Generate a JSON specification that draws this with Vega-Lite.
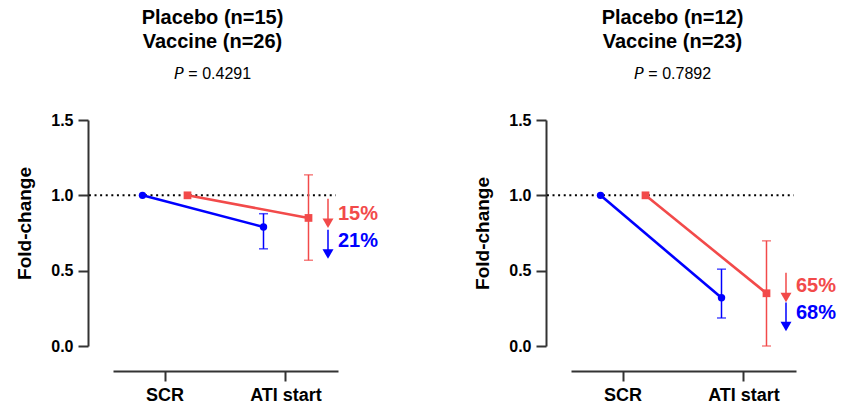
{
  "$schema": "https://vega.github.io/schema/vega-lite/v6.json",
  "background": "white",
  "padding": {"left": 15, "top": 8, "right": 0, "bottom": 0},
  "spacing": 94,
  "config": {
    "font": "Liberation Sans",
    "view": {"stroke": null},
    "title": {
      "font": "Liberation Sans",
      "fontSize": 20,
      "fontWeight": "bold",
      "lineHeight": 24,
      "color": "#000000",
      "anchor": "middle",
      "frame": "group",
      "offset": 30,
      "subtitleFont": "Liberation Sans",
      "subtitleFontSize": 16,
      "subtitleColor": "#000000",
      "subtitlePadding": 14
    },
    "axisY": {
      "offset": 25,
      "grid": false,
      "format": ".1f",
      "labelFontSize": 16,
      "labelFontWeight": "bold",
      "labelColor": "#000000",
      "labelPadding": 5,
      "tickSize": 10,
      "tickWidth": 2,
      "tickColor": "#333333",
      "domainWidth": 2,
      "domainColor": "#333333",
      "titleFontSize": 19,
      "titleFontWeight": "bold",
      "titleColor": "#000000",
      "titlePadding": 16
    },
    "axisX": {
      "offset": 25,
      "grid": false,
      "labelAngle": 0,
      "labelFontSize": 18,
      "labelFontWeight": "bold",
      "labelColor": "#000000",
      "labelPadding": 5,
      "tickSize": 10,
      "tickWidth": 2,
      "tickColor": "#333333",
      "domainWidth": 2,
      "domainColor": "#333333",
      "title": null
    }
  },
  "datasets": {
    "means_a": [
      {"time": "SCR", "group": "Vaccine", "mean": 1},
      {"time": "ATI start", "group": "Vaccine", "mean": 0.79, "lo": 0.645, "hi": 0.878},
      {"time": "SCR", "group": "Placebo", "mean": 1},
      {"time": "ATI start", "group": "Placebo", "mean": 0.85, "lo": 0.569, "hi": 1.136}
    ],
    "drop_a": [
      {"time": "ATI start", "group": "Placebo", "top": 0.977, "head": 0.815, "label": "15%", "ly": 0.876},
      {"time": "ATI start", "group": "Vaccine", "top": 0.772, "head": 0.61, "label": "21%", "ly": 0.695}
    ],
    "means_b": [
      {"time": "SCR", "group": "Vaccine", "mean": 1},
      {"time": "ATI start", "group": "Vaccine", "mean": 0.32, "lo": 0.186, "hi": 0.51},
      {"time": "SCR", "group": "Placebo", "mean": 1},
      {"time": "ATI start", "group": "Placebo", "mean": 0.35, "lo": 0.0, "hi": 0.698}
    ],
    "drop_b": [
      {"time": "ATI start", "group": "Placebo", "top": 0.487, "head": 0.322, "label": "65%", "ly": 0.40},
      {"time": "ATI start", "group": "Vaccine", "top": 0.288, "head": 0.13, "label": "68%", "ly": 0.217}
    ],
    "baseline": [{"ref": 1, "from": -0.107, "to": 0.99}]
  },
  "hconcat": [
    {
      "width": 225,
      "height": 226,
      "title": {"text": ["Placebo (n=15)", "Vaccine (n=26)"], "subtitle": "𝘗 = 0.4291", "dx": -13},
      "resolve": {"scale": {"x": "independent"}, "axis": {"x": "independent"}},
      "layer": [
        {
          "data": {"name": "baseline"},
          "mark": {"type": "rule", "color": "#000000", "strokeWidth": 2, "strokeDash": [2, 3.6], "clip": false},
          "encoding": {
            "x": {"field": "from", "type": "quantitative", "scale": {"domain": [0, 1], "nice": false, "zero": false, "clamp": false}, "axis": null},
            "x2": {"field": "to"},
            "y": {"field": "ref", "type": "quantitative", "scale": {"domain": [0, 1.5], "nice": false},
                  "axis": {"title": "Fold-change", "values": [0, 0.5, 1, 1.5], "titleY": 103}}
          }
        },
        {
          "layer": [
            {
              "data": {"name": "means_a"},
              "encoding": {
                "x": {"field": "time", "type": "nominal", "sort": ["SCR", "ATI start"],
                      "scale": {"domain": ["SCR", "ATI start"], "paddingInner": 0.2562, "paddingOuter": 0.0579}},
                "xOffset": {"field": "group", "type": "nominal", "scale": {"domain": ["Vaccine", "Placebo"], "paddingInner": 0, "paddingOuter": 0}},
                "color": {"field": "group", "type": "nominal",
                          "scale": {"domain": ["Vaccine", "Placebo"], "range": ["#0000ff", "#f24a4a"]}, "legend": null}
              },
              "layer": [
                {
                  "transform": [{"filter": "isValid(datum.lo)"}],
                  "mark": {"type": "rule", "strokeWidth": 1.5},
                  "encoding": {"y": {"field": "lo", "type": "quantitative"}, "y2": {"field": "hi"}}
                },
                {
                  "transform": [{"filter": "isValid(datum.lo)"}],
                  "mark": {"type": "tick", "thickness": 1.5, "size": 9},
                  "encoding": {"y": {"field": "lo", "type": "quantitative"}}
                },
                {
                  "transform": [{"filter": "isValid(datum.hi)"}],
                  "mark": {"type": "tick", "thickness": 1.5, "size": 9},
                  "encoding": {"y": {"field": "hi", "type": "quantitative"}}
                },
                {
                  "mark": {"type": "line", "strokeWidth": 2.6},
                  "encoding": {"y": {"field": "mean", "type": "quantitative"}}
                },
                {
                  "mark": {"type": "point", "filled": true, "opacity": 1},
                  "encoding": {"y": {"field": "mean", "type": "quantitative"},
                               "shape": {"field": "group", "type": "nominal", "scale": {"domain": ["Vaccine", "Placebo"], "range": ["circle", "square"]}, "legend": null},
                               "size": {"field": "group", "type": "nominal", "scale": {"domain": ["Vaccine", "Placebo"], "range": [55, 60]}, "legend": null}}
                }
              ]
            },
            {
              "data": {"name": "drop_a"},
              "encoding": {
                "x": {"field": "time", "type": "nominal"},
                "color": {"field": "group", "type": "nominal", "legend": null}
              },
              "layer": [
                {
                  "mark": {"type": "rule", "strokeWidth": 1.5, "xOffset": 42},
                  "encoding": {"y": {"field": "top", "type": "quantitative"}, "y2": {"field": "head"}}
                },
                {
                  "mark": {"type": "point", "shape": "triangle-down", "filled": true, "opacity": 1, "size": 120, "xOffset": 42},
                  "encoding": {"y": {"field": "head", "type": "quantitative"}}
                },
                {
                  "mark": {"type": "text", "align": "left", "baseline": "middle", "fontSize": 20, "fontWeight": "bold", "xOffset": 52},
                  "encoding": {"y": {"field": "ly", "type": "quantitative"}, "text": {"field": "label"}}
                }
              ]
            }
          ]
        }
      ]
    },
    {
      "width": 225,
      "height": 226,
      "title": {"text": ["Placebo (n=12)", "Vaccine (n=23)"], "subtitle": "𝘗 = 0.7892", "dx": -11},
      "resolve": {"scale": {"x": "independent"}, "axis": {"x": "independent"}},
      "layer": [
        {
          "data": {"name": "baseline"},
          "mark": {"type": "rule", "color": "#000000", "strokeWidth": 2, "strokeDash": [2, 3.6], "clip": false},
          "encoding": {
            "x": {"field": "from", "type": "quantitative", "scale": {"domain": [0, 1], "nice": false, "zero": false, "clamp": false}, "axis": null},
            "x2": {"field": "to"},
            "y": {"field": "ref", "type": "quantitative", "scale": {"domain": [0, 1.5], "nice": false},
                  "axis": {"title": "Fold-change", "values": [0, 0.5, 1, 1.5]}}
          }
        },
        {
          "layer": [
            {
              "data": {"name": "means_b"},
              "encoding": {
                "x": {"field": "time", "type": "nominal", "sort": ["SCR", "ATI start"],
                      "scale": {"domain": ["SCR", "ATI start"], "paddingInner": 0.2562, "paddingOuter": 0.0579}},
                "xOffset": {"field": "group", "type": "nominal", "scale": {"domain": ["Vaccine", "Placebo"], "paddingInner": 0, "paddingOuter": 0}},
                "color": {"field": "group", "type": "nominal",
                          "scale": {"domain": ["Vaccine", "Placebo"], "range": ["#0000ff", "#f24a4a"]}, "legend": null}
              },
              "layer": [
                {
                  "transform": [{"filter": "isValid(datum.lo)"}],
                  "mark": {"type": "rule", "strokeWidth": 1.5},
                  "encoding": {"y": {"field": "lo", "type": "quantitative"}, "y2": {"field": "hi"}}
                },
                {
                  "transform": [{"filter": "isValid(datum.lo)"}],
                  "mark": {"type": "tick", "thickness": 1.5, "size": 9},
                  "encoding": {"y": {"field": "lo", "type": "quantitative"}}
                },
                {
                  "transform": [{"filter": "isValid(datum.hi)"}],
                  "mark": {"type": "tick", "thickness": 1.5, "size": 9},
                  "encoding": {"y": {"field": "hi", "type": "quantitative"}}
                },
                {
                  "mark": {"type": "line", "strokeWidth": 2.6},
                  "encoding": {"y": {"field": "mean", "type": "quantitative"}}
                },
                {
                  "mark": {"type": "point", "filled": true, "opacity": 1},
                  "encoding": {"y": {"field": "mean", "type": "quantitative"},
                               "shape": {"field": "group", "type": "nominal", "scale": {"domain": ["Vaccine", "Placebo"], "range": ["circle", "square"]}, "legend": null},
                               "size": {"field": "group", "type": "nominal", "scale": {"domain": ["Vaccine", "Placebo"], "range": [55, 60]}, "legend": null}}
                }
              ]
            },
            {
              "data": {"name": "drop_b"},
              "encoding": {
                "x": {"field": "time", "type": "nominal"},
                "color": {"field": "group", "type": "nominal", "legend": null}
              },
              "layer": [
                {
                  "mark": {"type": "rule", "strokeWidth": 1.5, "xOffset": 42},
                  "encoding": {"y": {"field": "top", "type": "quantitative"}, "y2": {"field": "head"}}
                },
                {
                  "mark": {"type": "point", "shape": "triangle-down", "filled": true, "opacity": 1, "size": 120, "xOffset": 42},
                  "encoding": {"y": {"field": "head", "type": "quantitative"}}
                },
                {
                  "mark": {"type": "text", "align": "left", "baseline": "middle", "fontSize": 20, "fontWeight": "bold", "xOffset": 52},
                  "encoding": {"y": {"field": "ly", "type": "quantitative"}, "text": {"field": "label"}}
                }
              ]
            }
          ]
        }
      ]
    }
  ]
}
